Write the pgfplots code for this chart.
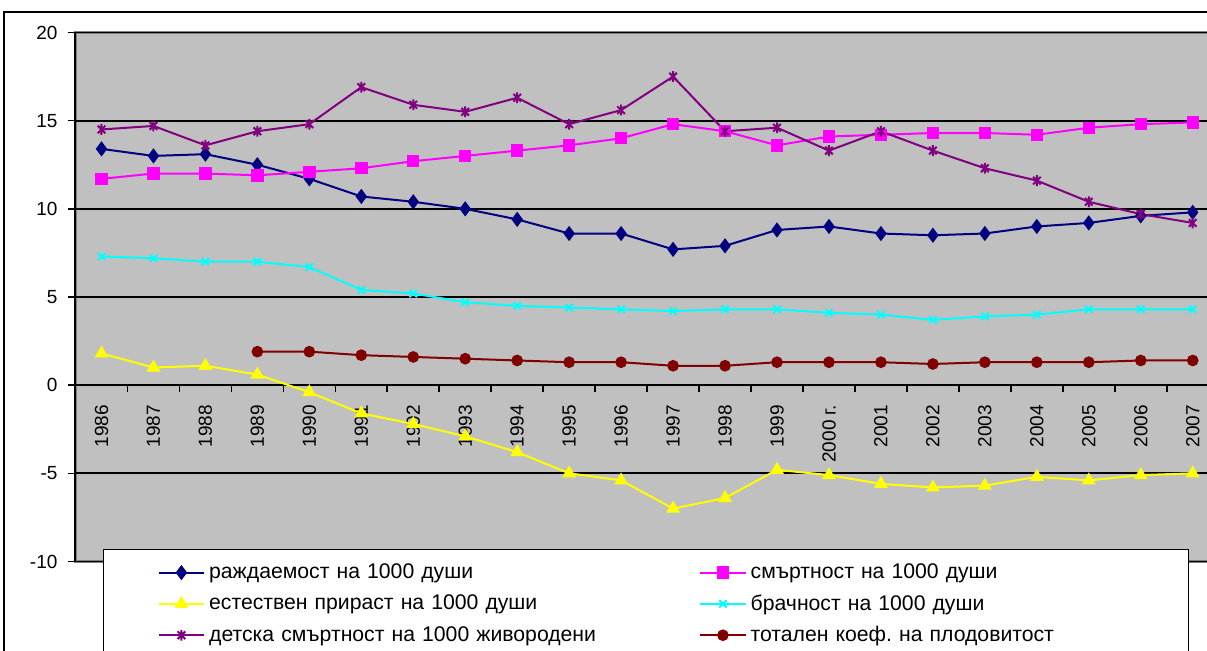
\documentclass[border=0pt]{standalone}
\usepackage{fontspec}
\setmainfont{Liberation Sans}
\usepackage{pgfplots}
\usepackage{pgfplotstable}
\pgfplotsset{compat=1.18}
\definecolor{cnavy}{RGB}{0,0,128}
\definecolor{cmag}{RGB}{255,0,255}
\definecolor{cyel}{RGB}{255,255,0}
\definecolor{ccyan}{RGB}{0,255,255}
\definecolor{cpurp}{RGB}{128,0,128}
\definecolor{cdred}{RGB}{128,0,0}
\definecolor{cgray}{RGB}{192,192,192}
\definecolor{cbord}{RGB}{128,128,128}
\pgfdeclareplotmark{xstar}{%
  \pgfpathmoveto{\pgfpoint{0pt}{\pgfplotmarksize}}%
  \pgfpathlineto{\pgfpoint{0pt}{-\pgfplotmarksize}}%
  \pgfpathmoveto{\pgfpoint{.7071\pgfplotmarksize}{.7071\pgfplotmarksize}}%
  \pgfpathlineto{\pgfpoint{-.7071\pgfplotmarksize}{-.7071\pgfplotmarksize}}%
  \pgfpathmoveto{\pgfpoint{-.7071\pgfplotmarksize}{.7071\pgfplotmarksize}}%
  \pgfpathlineto{\pgfpoint{.7071\pgfplotmarksize}{-.7071\pgfplotmarksize}}%
  \pgfusepathqstroke}
\pgfplotstableread{
x br sm ep brak det tkp
0 13.4 11.7 1.8 7.3 14.5 nan
1 13.0 12.0 1.0 7.2 14.7 nan
2 13.1 12.0 1.1 7.0 13.6 nan
3 12.5 11.9 0.6 7.0 14.4 1.9
4 11.7 12.1 -0.4 6.7 14.8 1.9
5 10.7 12.3 -1.6 5.4 16.9 1.7
6 10.4 12.7 -2.2 5.2 15.9 1.6
7 10.0 13.0 -2.9 4.7 15.5 1.5
8 9.4 13.3 -3.8 4.5 16.3 1.4
9 8.6 13.6 -5.0 4.4 14.8 1.3
10 8.6 14.0 -5.4 4.3 15.6 1.3
11 7.7 14.8 -7.0 4.2 17.5 1.1
12 7.9 14.4 -6.4 4.3 14.4 1.1
13 8.8 13.6 -4.8 4.3 14.6 1.3
14 9.0 14.1 -5.1 4.1 13.3 1.3
15 8.6 14.2 -5.6 4.0 14.4 1.3
16 8.5 14.3 -5.8 3.7 13.3 1.2
17 8.6 14.3 -5.7 3.9 12.3 1.3
18 9.0 14.2 -5.2 4.0 11.6 1.3
19 9.2 14.6 -5.4 4.3 10.4 1.3
20 9.6 14.8 -5.1 4.3 9.7 1.4
21 9.8 14.9 -5.0 4.3 9.2 1.4
}\data
\begin{document}
\frenchspacing
\begin{tikzpicture}
\useasboundingbox (0,0) rectangle (603.5pt,325.5pt);
\clip (0,0) rectangle (603.5pt,325.5pt);
\draw[line width=1pt] (2pt,-20pt) rectangle (700pt,319.5pt);
\begin{axis}[
  at={(37.75pt,44.75pt)}, anchor=south west,
  scale only axis, width=571.6pt, height=264.5pt,
  xmin=-0.5, xmax=21.5, ymin=-10, ymax=20,
  axis x line=middle, axis y line=left,
  axis line style={-, black, line width=1pt},
  hide obscured x ticks=false, hide obscured y ticks=false,
  ytick={-10,-5,0,5,10,15,20},
  xtick={-0.5,0.5,...,21.5},
  xticklabels={1986,1987,1988,1989,1990,1991,1992,1993,1994,1995,1996,1997,1998,1999,2000 г.,2001,2002,2003,2004,2005,2006,2007,{}},
  xticklabel style={rotate=90, anchor=east, xshift=-3pt, yshift=-12.99pt},
  tick align=outside, major tick length=3.5pt,
  tick style={black, line width=0.8pt},
  ymajorgrids, grid style={black, line width=0.9pt},
  axis background/.style={fill=cgray, draw=cbord, line width=1.2pt},
  /pgf/number format/assume math mode=true,
  tick label style={font=\fontsize{9.5}{11}\selectfont},
  yticklabel style={xshift=-2pt},
  legend columns=2,
  legend cell align=left,
  legend image code/.code={\draw[mark repeat=2,mark phase=2] plot coordinates {(0cm,0cm)(0.4cm,0cm)(0.8cm,0cm)};},
  legend style={at={(0.024,0.0236)}, anchor=north west, draw=black, line width=0.7pt, fill=white,
    font=\fontsize{10.6}{12}\selectfont, inner xsep=27pt, inner ysep=5pt, row sep=2.5pt,
    /tikz/column 2/.style={text width=243pt},
    /tikz/column 4/.style={text width=190pt}},
  every axis plot/.append style={line width=1pt},
]
\addplot[cnavy, mark=diamond*, mark size=3pt, mark options={solid}] table[x=x,y=br] {\data};
\addlegendentry{раждаемост на 1000 души}
\addplot[cmag, mark=square*, mark size=2.6pt] table[x=x,y=sm] {\data};
\addlegendentry{смъртност на 1000 души}
\addplot[cyel, mark=triangle*, mark size=3pt] table[x=x,y=ep] {\data};
\addlegendentry{естествен прираст на 1000 души}
\addplot[ccyan, mark=x, mark size=2.6pt] table[x=x,y=brak] {\data};
\addlegendentry{брачност на 1000 души}
\addplot[cpurp, mark=xstar, mark size=2.7pt] table[x=x,y=det] {\data};
\addlegendentry{детска смъртност на 1000 живородени}
\addplot[cdred, mark=*, mark size=2.4pt] table[x=x,y=tkp] {\data};
\addlegendentry{тотален коеф. на плодовитост}
\end{axis}
\end{tikzpicture}
\end{document}
